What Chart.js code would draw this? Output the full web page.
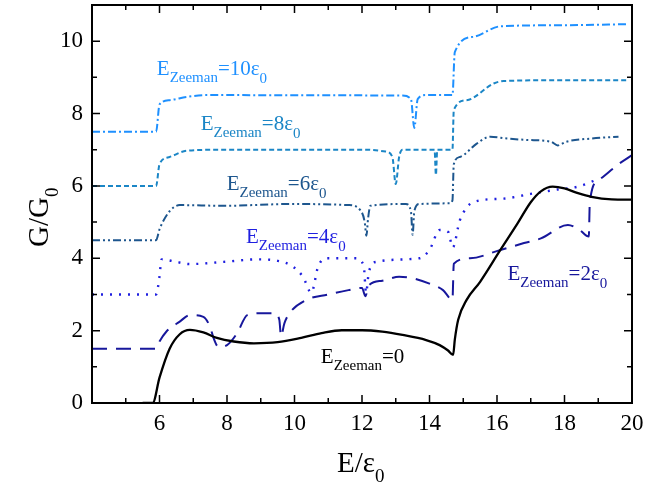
<!DOCTYPE html>
<html>
<head>
<meta charset="utf-8">
<script src="https://cdn.jsdelivr.net/npm/chart.js@4.4.1/dist/chart.umd.min.js"></script>
<style>
  html, body { margin: 0; padding: 0; background: #fff; }
  #wrap { width: 670px; height: 489px; }
</style>
</head>
<body>
<div id="wrap"><canvas id="myChart" width="670" height="489"></canvas></div>
<script>
// values (E/eps0 , G/G0)
const xZero = [4.0, 5.5, 5.8, 6.0, 6.3, 6.6, 6.9, 7.3, 7.7, 8.2, 8.8, 9.5, 10.2, 10.8, 11.4, 12.0, 12.6, 13.2, 13.9, 14.3, 14.55, 14.7, 14.75, 14.85, 15.1, 15.5, 16.1, 16.6, 17.0, 17.3, 17.65, 18.0, 18.4, 18.8, 19.4, 20.0];
const yZero = [null, 0, 0, 0.7, 1.5, 1.9, 2.02, 1.95, 1.8, 1.7, 1.65, 1.68, 1.8, 1.93, 2.01, 2.01, 1.97, 1.88, 1.74, 1.6, 1.45, 1.33, 1.75, 2.3, 2.85, 3.35, 4.23, 4.95, 5.55, 5.85, 5.98, 5.93, 5.8, 5.7, 5.63, 5.62];

const xTwo = [4.0, 5.9, 6.0, 6.2, 6.6, 6.9, 7.3, 7.5, 7.6, 7.75, 8.0, 8.3, 8.6, 9.0, 9.4, 9.55, 9.6, 9.7, 9.85, 10.35, 11.0, 11.6, 12.0, 12.1, 12.2, 12.6, 13.1, 13.5, 14.0, 14.4, 14.68, 14.72, 15.2, 16.1, 16.8, 17.3, 18.1, 18.45, 18.72, 18.75, 19.0, 19.6, 20.0];
const yTwo = [1.5, 1.5, 1.7, 1.97, 2.25, 2.43, 2.38, 2.1, 1.8, 1.55, 1.6, 1.93, 2.43, 2.48, 2.48, 2.3, 1.85, 2.2, 2.48, 2.85, 3.0, 3.12, 3.18, 2.95, 3.25, 3.38, 3.49, 3.45, 3.3, 3.12, 2.85, 3.85, 4.0, 4.23, 4.42, 4.55, 4.92, 4.78, 4.6, 5.55, 6.15, 6.6, 6.85];

const xFour = [4.0, 5.9, 6.0, 6.06, 6.4, 6.9, 7.9, 8.9, 9.5, 9.95, 10.25, 10.5, 10.7, 10.95, 11.8, 12.05, 12.12, 12.2, 12.42, 13.7, 14.0, 14.3, 14.55, 14.69, 14.9, 15.3, 16.2, 17.0, 17.8, 18.4, 18.9];
const yFour = [3.0, 3.0, 3.5, 3.97, 3.92, 3.84, 3.9, 3.97, 3.93, 3.77, 3.49, 3.05, 3.77, 4.0, 4.0, 3.8, 3.05, 3.6, 3.9, 4.0, 4.23, 4.78, 4.73, 4.3, 5.05, 5.55, 5.65, 5.78, 5.9, 5.98, 6.15];

const xSix = [4.0, 5.9, 6.0, 6.3, 6.6, 7.9, 9.9, 11.6, 11.95, 12.08, 12.13, 12.18, 12.25, 13.3, 13.45, 13.5, 13.55, 13.7, 14.6, 14.68, 14.72, 14.9, 15.4, 15.8, 16.3, 16.9, 17.6, 17.8, 18.05, 18.8, 19.6];
const ySix = [4.5, 4.5, 4.8, 5.3, 5.47, 5.45, 5.5, 5.47, 5.33, 5.0, 4.62, 5.1, 5.45, 5.5, 5.3, 4.65, 5.3, 5.5, 5.52, 5.6, 6.6, 6.8, 7.17, 7.36, 7.31, 7.27, 7.22, 7.12, 7.22, 7.31, 7.36];

const xEight = [4.0, 5.9, 6.0, 6.3, 6.8, 7.9, 12.1, 12.7, 12.9, 13.0, 13.1, 13.2, 14.15, 14.19, 14.23, 14.68, 14.72, 15.1, 15.9, 16.2, 17.8, 19.9];
const yEight = [6.0, 6.0, 6.6, 6.8, 6.97, 7.0, 7.0, 6.95, 6.8, 6.05, 6.8, 7.0, 7.0, 6.3, 7.0, 7.0, 8.1, 8.37, 8.83, 8.9, 8.92, 8.92];

const xTen = [4.0, 5.9, 6.0, 6.3, 6.8, 7.4, 13.2, 13.45, 13.55, 13.65, 13.9, 14.68, 14.75, 15.3, 16.1, 17.8, 19.9];
const yTen = [7.5, 7.5, 8.25, 8.37, 8.46, 8.51, 8.5, 8.4, 7.6, 8.4, 8.51, 8.51, 9.7, 10.12, 10.41, 10.44, 10.47];

const seriesValues = ['0', '2', '4', '6', '8', '10'];
const xTicks = [6, 8, 10, 12, 14, 16, 18, 20];
const yTicks = [0, 2, 4, 6, 8, 10];

// where each curve label sits (data coords of its left baseline)
const labelAt = [[10.78, 1.10], [16.31, 3.40], [8.56, 4.42], [7.99, 5.88], [7.22, 7.54], [5.92, 9.06]];

const colors = ['#000000', '#17179c', '#1f1fe0', '#1d568e', '#1b86c6', '#1e90ff'];
const dashes = [[], [15, 9], [2, 7], [8, 3, 2, 3, 2, 3], [5, 3], [8, 3, 2, 3]];
const serif = '"Liberation Serif", "Times New Roman", serif';

const pts = (xs, ys) => xs.map((v, i) => ({x: v, y: ys[i]}));
const allX = [xZero, xTwo, xFour, xSix, xEight, xTen];
const allY = [yZero, yTwo, yFour, ySix, yEight, yTen];

const datasets = allX.map((xs, i) => ({
  label: 'EZeeman=' + seriesValues[i],
  data: pts(xs, allY[i]),
  showLine: true,
  borderColor: colors[i],
  borderWidth: i === 0 ? 2.3 : (i === 2 ? 2.4 : 2),
  borderDash: dashes[i],
  pointRadius: 0,
  cubicInterpolationMode: 'monotone',
  spanGaps: false
}));

function rich(ctx, x, y, parts) {
  parts.forEach(p => {
    ctx.font = p[1] + 'px ' + serif;
    ctx.fillText(p[0], x, y + p[2]);
    x += ctx.measureText(p[0]).width;
  });
}

const overlay = {
  id: 'overlay',
  afterDraw(chart) {
    const ctx = chart.ctx, a = chart.chartArea;
    const xs = chart.scales.x, ys = chart.scales.y;
    ctx.save();
    ctx.strokeStyle = '#000';
    ctx.lineWidth = 1.5;
    ctx.beginPath();
    for (let v = 4; v <= 20; v++) {
      const px = xs.getPixelForValue(v), len = v % 2 === 0 ? 8 : 5;
      ctx.moveTo(px, a.bottom); ctx.lineTo(px, a.bottom - len);
      ctx.moveTo(px, a.top); ctx.lineTo(px, a.top + len);
    }
    for (let v = 0; v <= 11; v++) {
      const py = ys.getPixelForValue(v), len = v % 2 === 0 ? 8 : 5;
      ctx.moveTo(a.left, py); ctx.lineTo(a.left + len, py);
      ctx.moveTo(a.right, py); ctx.lineTo(a.right - len, py);
    }
    ctx.stroke();
    ctx.lineWidth = 2;
    ctx.strokeRect(a.left, a.top, a.right - a.left, a.bottom - a.top);

    // curve labels
    ctx.textAlign = 'left';
    ctx.textBaseline = 'alphabetic';
    labelAt.forEach((p, i) => {
      ctx.fillStyle = colors[i];
      const parts = [['E', 21, 0], ['Zeeman', 15, 7]];
      if (seriesValues[i] === '0') parts.push(['=0', 21, 0]);
      else parts.push(['=' + seriesValues[i] + 'ε', 21, 0], ['0', 15, 8]);
      rich(ctx, xs.getPixelForValue(p[0]), ys.getPixelForValue(p[1]), parts);
    });

    // axis titles
    ctx.fillStyle = '#000';
    rich(ctx, 337, 472, [['E/ε', 29, 0], ['0', 19, 10]]);
    ctx.translate(48, 247);
    ctx.rotate(-Math.PI / 2);
    rich(ctx, 0, 0, [['G/G', 29, 0], ['0', 19, 10]]);
    ctx.restore();
  }
};

new Chart(document.getElementById('myChart'), {
  type: 'scatter',
  data: { datasets: datasets },
  plugins: [overlay],
  options: {
    responsive: false,
    animation: false,
    layout: { padding: { top: 5, right: 38, left: 0, bottom: 0 } },
    plugins: { legend: { display: false }, tooltip: { enabled: false } },
    scales: {
      x: {
        type: 'linear', min: 4, max: 20,
        grid: { display: false, drawTicks: false }, border: { display: false },
        ticks: {
          stepSize: 1, autoSkip: false, maxRotation: 0, padding: 7, color: '#000',
          font: { family: serif, size: 23 },
          callback: v => xTicks.includes(v) ? String(v) : ''
        },
        afterFit(s) { s.height = 86; s.paddingLeft = 0; s.paddingRight = 0; }
      },
      y: {
        type: 'linear', min: 0, max: 11,
        grid: { display: false, drawTicks: false }, border: { display: false },
        ticks: {
          stepSize: 1, autoSkip: false, padding: 9, color: '#000',
          font: { family: serif, size: 23 },
          callback: v => yTicks.includes(v) ? String(v) : ''
        },
        afterFit(s) { s.width = 92; s.paddingTop = 0; s.paddingBottom = 0; }
      }
    }
  }
});
</script>
</body>
</html>
